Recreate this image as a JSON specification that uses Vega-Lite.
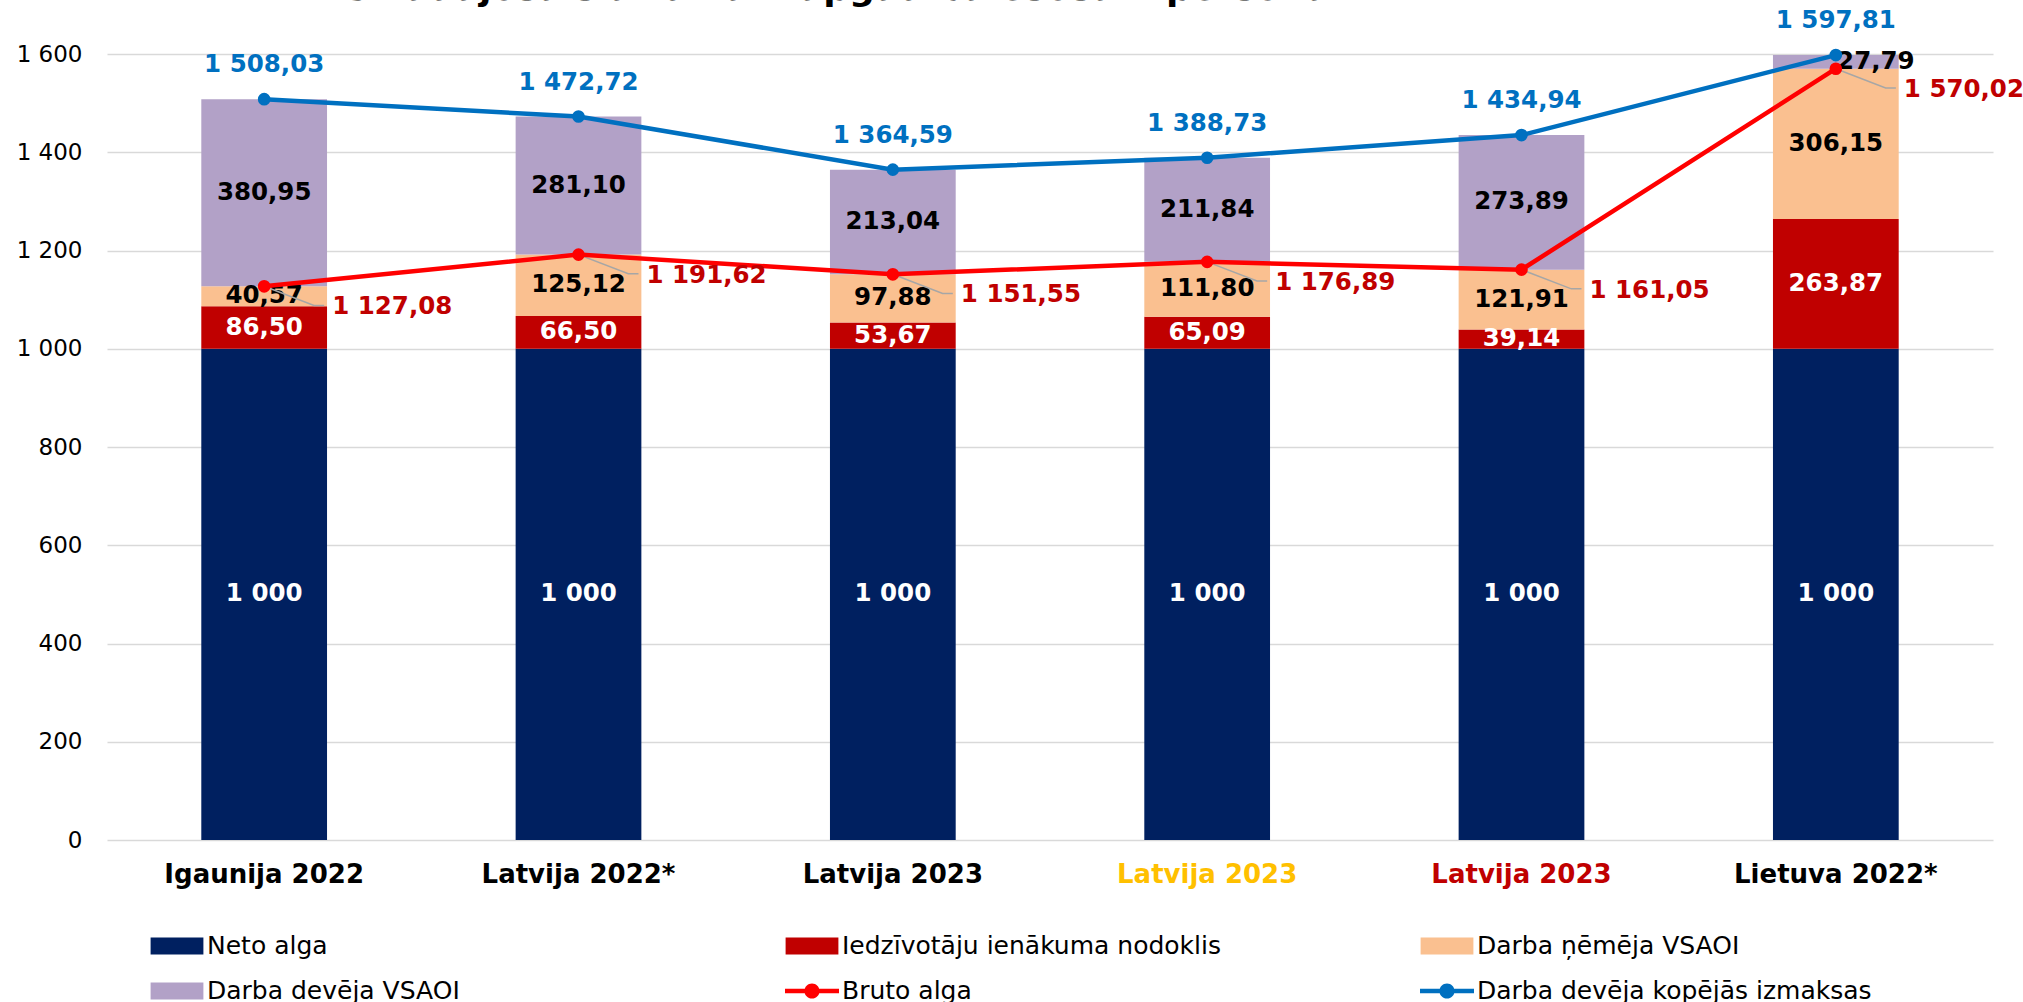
{
  "$schema": "https://vega.github.io/schema/vega-lite/v6.json",
  "width": 1886,
  "height": 786,
  "autosize": {"type": "none"},
  "padding": {"left": 107, "top": 54, "right": 30, "bottom": 162},
  "title": {"text": "Strādājošais ar divām apgādībā esošām personām", "anchor": "start", "frame": "group", "dx": 237, "dy": 28, "fontSize": 36, "font": "DejaVu Sans", "fontWeight": "bold", "color": "black", "baseline": "alphabetic", "offset": 0},
  "config": {
    "view": {"stroke": null},
    "locale": {"number": {"decimal": ",", "thousands": " ", "grouping": [3], "currency": ["", " €"]}},
    "text": {"font": "DejaVu Sans", "fontWeight": "bold", "fontSize": 24.5},
    "axis": {"labelFont": "DejaVu Sans", "labelColor": "black"}
  },
  "resolve": {"legend": {"color": "independent", "shape": "independent"}},
  "datasets": {
    "sastavdalas": [
      {"valsts": "Igaunija 2022", "serija": "Neto alga", "karta": 1, "vertiba": 1000},
      {"valsts": "Igaunija 2022", "serija": "Iedzīvotāju ienākuma nodoklis", "karta": 2, "vertiba": 86.50},
      {"valsts": "Igaunija 2022", "serija": "Darba ņēmēja VSAOI", "karta": 3, "vertiba": 40.57},
      {"valsts": "Igaunija 2022", "serija": "Darba devēja VSAOI", "karta": 4, "vertiba": 380.95},
      {"valsts": "Latvija 2022*", "serija": "Neto alga", "karta": 1, "vertiba": 1000},
      {"valsts": "Latvija 2022*", "serija": "Iedzīvotāju ienākuma nodoklis", "karta": 2, "vertiba": 66.50},
      {"valsts": "Latvija 2022*", "serija": "Darba ņēmēja VSAOI", "karta": 3, "vertiba": 125.12},
      {"valsts": "Latvija 2022*", "serija": "Darba devēja VSAOI", "karta": 4, "vertiba": 281.10},
      {"valsts": "Latvija 2023", "serija": "Neto alga", "karta": 1, "vertiba": 1000},
      {"valsts": "Latvija 2023", "serija": "Iedzīvotāju ienākuma nodoklis", "karta": 2, "vertiba": 53.67},
      {"valsts": "Latvija 2023", "serija": "Darba ņēmēja VSAOI", "karta": 3, "vertiba": 97.88},
      {"valsts": "Latvija 2023", "serija": "Darba devēja VSAOI", "karta": 4, "vertiba": 213.04},
      {"valsts": "Latvija 2023 ", "serija": "Neto alga", "karta": 1, "vertiba": 1000},
      {"valsts": "Latvija 2023 ", "serija": "Iedzīvotāju ienākuma nodoklis", "karta": 2, "vertiba": 65.09},
      {"valsts": "Latvija 2023 ", "serija": "Darba ņēmēja VSAOI", "karta": 3, "vertiba": 111.80},
      {"valsts": "Latvija 2023 ", "serija": "Darba devēja VSAOI", "karta": 4, "vertiba": 211.84},
      {"valsts": "Latvija 2023  ", "serija": "Neto alga", "karta": 1, "vertiba": 1000},
      {"valsts": "Latvija 2023  ", "serija": "Iedzīvotāju ienākuma nodoklis", "karta": 2, "vertiba": 39.14},
      {"valsts": "Latvija 2023  ", "serija": "Darba ņēmēja VSAOI", "karta": 3, "vertiba": 121.91},
      {"valsts": "Latvija 2023  ", "serija": "Darba devēja VSAOI", "karta": 4, "vertiba": 273.89},
      {"valsts": "Lietuva 2022*", "serija": "Neto alga", "karta": 1, "vertiba": 1000},
      {"valsts": "Lietuva 2022*", "serija": "Iedzīvotāju ienākuma nodoklis", "karta": 2, "vertiba": 263.87},
      {"valsts": "Lietuva 2022*", "serija": "Darba ņēmēja VSAOI", "karta": 3, "vertiba": 306.15},
      {"valsts": "Lietuva 2022*", "serija": "Darba devēja VSAOI", "karta": 4, "vertiba": 27.79}
    ],
    "kopsummas": [
      {"valsts": "Igaunija 2022", "serija": "Bruto alga", "vertiba": 1127.08},
      {"valsts": "Latvija 2022*", "serija": "Bruto alga", "vertiba": 1191.62},
      {"valsts": "Latvija 2023", "serija": "Bruto alga", "vertiba": 1151.55},
      {"valsts": "Latvija 2023 ", "serija": "Bruto alga", "vertiba": 1176.89},
      {"valsts": "Latvija 2023  ", "serija": "Bruto alga", "vertiba": 1161.05},
      {"valsts": "Lietuva 2022*", "serija": "Bruto alga", "vertiba": 1570.02},
      {"valsts": "Igaunija 2022", "serija": "Darba devēja kopējās izmaksas", "vertiba": 1508.03},
      {"valsts": "Latvija 2022*", "serija": "Darba devēja kopējās izmaksas", "vertiba": 1472.72},
      {"valsts": "Latvija 2023", "serija": "Darba devēja kopējās izmaksas", "vertiba": 1364.59},
      {"valsts": "Latvija 2023 ", "serija": "Darba devēja kopējās izmaksas", "vertiba": 1388.73},
      {"valsts": "Latvija 2023  ", "serija": "Darba devēja kopējās izmaksas", "vertiba": 1434.94},
      {"valsts": "Lietuva 2022*", "serija": "Darba devēja kopējās izmaksas", "vertiba": 1597.81}
    ]
  },
  "encoding": {
    "x": {
      "field": "valsts", "type": "nominal", "sort": null,
      "scale": {"domain": ["Igaunija 2022", "Latvija 2022*", "Latvija 2023", "Latvija 2023 ", "Latvija 2023  ", "Lietuva 2022*"], "paddingInner": 0.6, "paddingOuter": 0.3},
      "axis": {
        "title": null, "labelAngle": 0, "domain": false, "ticks": false, "grid": false,
        "labelExpr": "trim(datum.label)", "labelLimit": 500,
        "labelFontSize": 26, "labelFontWeight": "bold", "labelPadding": 21,
        "labelColor": {"condition": [{"test": "datum.value === 'Latvija 2023 '", "value": "#FFC000"}, {"test": "datum.value === 'Latvija 2023  '", "value": "#C00000"}], "value": "black"}
      }
    }
  },
  "layer": [
    {
      "data": {"name": "sastavdalas"},
      "transform": [{"stack": "vertiba", "groupby": ["valsts"], "sort": [{"field": "karta", "order": "ascending"}], "as": ["y0", "y1"]}],
      "mark": {"type": "bar"},
      "encoding": {
        "y": {"field": "y1", "type": "quantitative", "scale": {"domain": [0, 1600], "nice": false},
          "axis": {"title": null, "values": [0, 200, 400, 600, 800, 1000, 1200, 1400, 1600], "format": ",d", "domain": false, "ticks": false, "labelFontSize": 23, "labelPadding": 25, "gridColor": "#D9D9D9", "gridWidth": 1.5}},
        "y2": {"field": "y0"},
        "color": {"field": "serija", "type": "nominal", "legend": null,
          "scale": {"domain": ["Neto alga", "Iedzīvotāju ienākuma nodoklis", "Darba ņēmēja VSAOI", "Darba devēja VSAOI", "Bruto alga", "Darba devēja kopējās izmaksas"],
                    "range": ["#002060", "#C00000", "#FAC090", "#B2A1C7", "#FF0000", "#0070C0"]}}
      }
    },
    {
      "data": {"name": "sastavdalas"},
      "transform": [
        {"stack": "vertiba", "groupby": ["valsts"], "sort": [{"field": "karta", "order": "ascending"}], "as": ["y0", "y1"]},
        {"calculate": "(datum.y0 + datum.y1) / 2", "as": "ymid"},
        {"filter": "datum.serija !== 'Neto alga' && !(datum.valsts === 'Lietuva 2022*' && datum.serija === 'Darba devēja VSAOI')"}
      ],
      "mark": {"type": "text", "baseline": "middle"},
      "encoding": {
        "y": {"field": "ymid", "type": "quantitative"},
        "text": {"field": "vertiba", "type": "quantitative", "format": ",.2f"},
        "color": {"condition": {"test": "datum.serija === 'Iedzīvotāju ienākuma nodoklis'", "value": "white"}, "value": "black"}
      }
    },
    {
      "data": {"name": "sastavdalas"},
      "transform": [
        {"stack": "vertiba", "groupby": ["valsts"], "sort": [{"field": "karta", "order": "ascending"}], "as": ["y0", "y1"]},
        {"calculate": "(datum.y0 + datum.y1) / 2", "as": "ymid"},
        {"filter": "datum.serija === 'Neto alga'"}
      ],
      "mark": {"type": "text", "baseline": "middle", "color": "white"},
      "encoding": {
        "y": {"field": "ymid", "type": "quantitative"},
        "text": {"field": "vertiba", "type": "quantitative", "format": ",.0f"}
      }
    },
    {
      "data": {"name": "sastavdalas"},
      "transform": [
        {"stack": "vertiba", "groupby": ["valsts"], "sort": [{"field": "karta", "order": "ascending"}], "as": ["y0", "y1"]},
        {"calculate": "(datum.y0 + datum.y1) / 2", "as": "ymid"},
        {"filter": "datum.valsts === 'Lietuva 2022*' && datum.serija === 'Darba devēja VSAOI'"}
      ],
      "mark": {"type": "text", "baseline": "middle", "color": "black", "dx": 40},
      "encoding": {
        "y": {"field": "ymid", "type": "quantitative"},
        "text": {"field": "vertiba", "type": "quantitative", "format": ",.2f"}
      }
    },
    {
      "data": {"name": "kopsummas"},
      "transform": [{"filter": "datum.serija === 'Bruto alga'"}],
      "mark": {"type": "point", "shape": "M0,0L0.83,0.32H1", "size": 14400, "filled": false, "stroke": "#A6A6A6", "strokeWidth": 1.5, "opacity": 1},
      "encoding": {"y": {"field": "vertiba", "type": "quantitative"}}
    },
    {
      "data": {"name": "kopsummas"},
      "mark": {"type": "line", "strokeWidth": 4.5},
      "encoding": {
        "y": {"field": "vertiba", "type": "quantitative"},
        "color": {"field": "serija", "type": "nominal", "legend": null}
      }
    },
    {
      "data": {"name": "kopsummas"},
      "mark": {"type": "point", "filled": true, "size": 160, "opacity": 1},
      "encoding": {
        "y": {"field": "vertiba", "type": "quantitative"},
        "color": {"field": "serija", "type": "nominal", "legend": null}
      }
    },
    {
      "data": {"name": "kopsummas"},
      "transform": [{"filter": "datum.serija === 'Bruto alga'"}],
      "mark": {"type": "text", "align": "left", "baseline": "middle", "dx": 68, "dy": 21, "color": "#C00000"},
      "encoding": {
        "y": {"field": "vertiba", "type": "quantitative"},
        "text": {"field": "vertiba", "type": "quantitative", "format": ",.2f"}
      }
    },
    {
      "data": {"name": "kopsummas"},
      "transform": [{"filter": "datum.serija === 'Darba devēja kopējās izmaksas'"}],
      "mark": {"type": "text", "align": "center", "baseline": "middle", "dy": -34, "color": "#0070C0"},
      "encoding": {
        "y": {"field": "vertiba", "type": "quantitative"},
        "text": {"field": "vertiba", "type": "quantitative", "format": ",.2f"}
      }
    },
    {
      "data": {"name": "kopsummas"},
      "mark": {"type": "point", "filled": true, "opacity": 0, "size": 1600},
      "encoding": {
        "y": {"field": "vertiba", "type": "quantitative"},
        "color": {"field": "serija", "type": "nominal",
          "legend": {"title": null, "orient": "bottom", "direction": "horizontal", "columns": 3, "gridAlign": "all", "columnPadding": 183, "rowPadding": 12, "padding": 50, "symbolSize": 1600, "symbolOpacity": 1, "symbolStrokeWidth": 0, "labelFont": "DejaVu Sans", "labelFontSize": 25, "labelColor": "black", "labelOffset": 10, "labelLimit": 600, "offset": -11}},
        "shape": {"field": "serija", "type": "nominal",
          "scale": {"domain": ["Neto alga", "Iedzīvotāju ienākuma nodoklis", "Darba ņēmēja VSAOI", "Darba devēja VSAOI", "Bruto alga", "Darba devēja kopējās izmaksas"],
                    "range": ["M-1.32,-0.42H1.32V0.42H-1.32Z", "M-1.32,-0.42H1.32V0.42H-1.32Z", "M-1.32,-0.42H1.32V0.42H-1.32Z", "M-1.32,-0.42H1.32V0.42H-1.32Z", "M-1.35,-0.11H1.35V0.11H-1.35Z M-0.38,0A0.38,0.38 0 1,1 0.38,0A0.38,0.38 0 1,1 -0.38,0Z", "M-1.35,-0.11H1.35V0.11H-1.35Z M-0.38,0A0.38,0.38 0 1,1 0.38,0A0.38,0.38 0 1,1 -0.38,0Z"]},
          "legend": {"title": null, "orient": "bottom", "direction": "horizontal", "columns": 3, "gridAlign": "all", "columnPadding": 183, "rowPadding": 12, "padding": 50, "symbolSize": 1600, "symbolOpacity": 1, "symbolStrokeWidth": 0, "labelFont": "DejaVu Sans", "labelFontSize": 25, "labelColor": "black", "labelOffset": 10, "labelLimit": 600, "offset": -11}}
      }
    }
  ]
}
